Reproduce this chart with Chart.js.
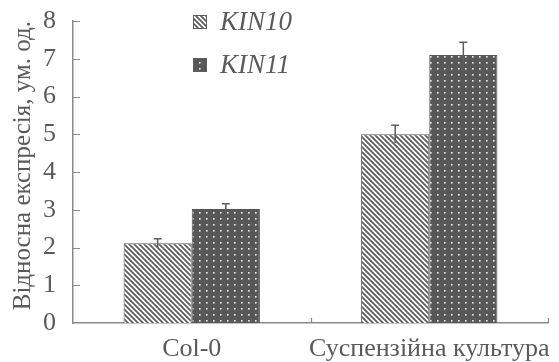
<!DOCTYPE html>
<html>
<head>
<meta charset="utf-8">
<script src="https://cdn.jsdelivr.net/npm/chart.js@4"></script>
<style>
  html, body { margin: 0; padding: 0; background: #fff; }
  #wrap { width: 559px; height: 362px; }
</style>
</head>
<body>
<div id="wrap"><canvas id="chart" width="559" height="362"></canvas></div>
<script>
var categories = ["Col-0", "Суспензійна культура"];
var kin10 = [2.11, 5.0];
var kin10Err = [0.12, 0.24];
var kin11 = [3.02, 7.1];
var kin11Err = [0.14, 0.34];
var yTicks = [0, 1, 2, 3, 4, 5, 6, 7, 8];

var ink = "#5e5e5e";
var axisColor = "#8a8a8a";
var textColor = "#5a5a5a";
var serif = "'Liberation Serif', 'DejaVu Serif', serif";

function hatchPattern() {
    var c = document.createElement("canvas");
    c.width = 5; c.height = 5;
    var g = c.getContext("2d");
    g.fillStyle = "#fff";
    g.fillRect(0, 0, 5, 5);
    g.strokeStyle = ink;
    g.lineWidth = 1.8;
    g.beginPath();
    g.moveTo(-1, -1); g.lineTo(6, 6);
    g.moveTo(-1, 4); g.lineTo(1, 6);
    g.moveTo(4, -1); g.lineTo(6, 1);
    g.stroke();
    return g.createPattern(c, "repeat");
}

function dotPattern() {
    var c = document.createElement("canvas");
    c.width = 7; c.height = 6;
    var g = c.getContext("2d");
    g.fillStyle = "#585858";
    g.fillRect(0, 0, 7, 6);
    g.fillStyle = "#eee";
    g.fillRect(3, 2, 1.6, 1.6);
    return g.createPattern(c, "repeat");
}

var errorBars = {
    id: "errorBars",
    afterDatasetsDraw: function (chart) {
        var ctx = chart.ctx;
        var y = chart.scales.y;
        var errs = [kin10Err, kin11Err];
        ctx.save();
        ctx.strokeStyle = ink;
        ctx.lineWidth = 1.5;
        chart.data.datasets.forEach(function (ds, di) {
            chart.getDatasetMeta(di).data.forEach(function (bar, i) {
                var v = ds.data[i], e = errs[di][i];
                var top = y.getPixelForValue(v + e);
                var bot = y.getPixelForValue(v - e);
                ctx.beginPath();
                ctx.moveTo(bar.x, bot); ctx.lineTo(bar.x, top);
                ctx.moveTo(bar.x - 4, top); ctx.lineTo(bar.x + 4, top);
                ctx.stroke();
            });
        });
        ctx.restore();
    }
};

var innerTicks = {
    id: "innerTicks",
    afterDraw: function (chart) {
        var ctx = chart.ctx;
        var x = chart.scales.x, y = chart.scales.y;
        var area = chart.chartArea;
        ctx.save();
        ctx.strokeStyle = axisColor;
        ctx.lineWidth = 1.2;
        ctx.beginPath();
        yTicks.forEach(function (t) {
            var py = Math.round(y.getPixelForValue(t)) + 0.5;
            if (t === 0) return;
            ctx.moveTo(area.left, py); ctx.lineTo(area.left + 7, py);
        });
        for (var i = 0; i < categories.length; i++) {
            var px = i < categories.length - 1
                ? (x.getPixelForValue(i) + x.getPixelForValue(i + 1)) / 2
                : area.right;
            px = Math.round(px) + 0.5;
            ctx.moveTo(px, area.bottom); ctx.lineTo(px, area.bottom - 5);
        }
        ctx.stroke();

        // legend
        var items = chart.data.datasets;
        ctx.font = "italic 27px " + serif;
        ctx.textBaseline = "middle";
        items.forEach(function (ds, k) {
            var cy = 22 + k * 43;
            ctx.fillStyle = ds.backgroundColor;
            ctx.fillRect(193, cy - 7, 14, 14);
            ctx.strokeStyle = ink;
            ctx.lineWidth = 1;
            ctx.strokeRect(193.5, cy - 6.5, 13, 13);
            ctx.fillStyle = textColor;
            ctx.fillText(ds.label, 220, cy + 1);
        });
        ctx.restore();
    }
};

new Chart(document.getElementById("chart"), {
    type: "bar",
    data: {
        labels: categories,
        datasets: [{
            label: "KIN10",
            data: kin10,
            backgroundColor: hatchPattern(),
            borderColor: ink,
            borderWidth: 1
        }, {
            label: "KIN11",
            data: kin11,
            backgroundColor: dotPattern(),
            borderColor: "#555",
            borderWidth: 1
        }]
    },
    options: {
        responsive: false,
        animation: false,
        devicePixelRatio: 1,
        layout: { padding: { left: 0, right: 11, top: 21, bottom: 0 } },
        datasets: { bar: { categoryPercentage: 0.574, barPercentage: 1.0 } },
        plugins: { legend: { display: false }, tooltip: { enabled: false } },
        scales: {
            x: {
                grid: { display: false, drawTicks: false },
                border: { display: true, color: axisColor, width: 1.5 },
                ticks: { color: textColor, font: { family: serif, size: 26 }, padding: 11, maxRotation: 0, autoSkip: false },
                afterFit: function (s) {
                    s.height = 39;
                    s.paddingLeft = 0; s.paddingRight = 0;
                }
            },
            y: {
                min: 0, max: 8,
                afterBuildTicks: function (s) { s.ticks = yTicks.map(function (v) { return { value: v }; }); },
                grid: { display: false, drawTicks: false },
                border: { display: true, color: axisColor, width: 1.5 },
                ticks: { color: textColor, font: { family: serif, size: 26 }, padding: 17 },
                title: {
                    display: true,
                    text: "Відносна експресія, ум. од.",
                    color: textColor,
                    align: "end",
                    font: { family: serif, size: 25 },
                    padding: { top: 8, bottom: 0 }
                },
                afterFit: function (s) {
                    s.width = 73;
                    s.paddingTop = 0; s.paddingBottom = 0;
                }
            }
        }
    },
    plugins: [errorBars, innerTicks]
});
</script>
</body>
</html>
